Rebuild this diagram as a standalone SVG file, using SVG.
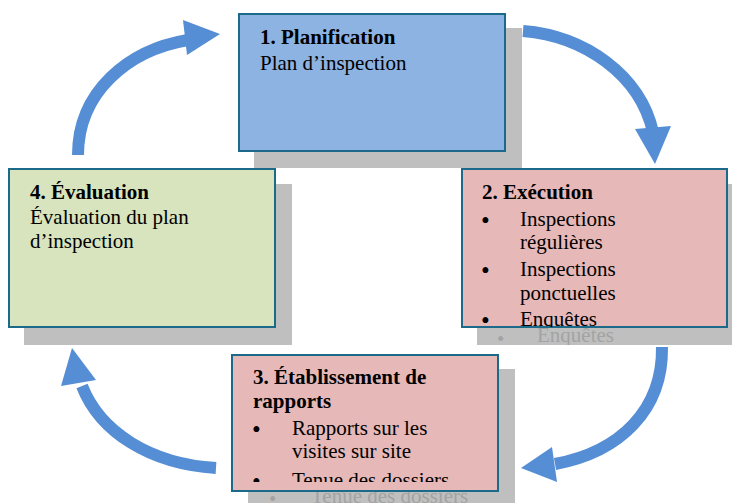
<svg xmlns="http://www.w3.org/2000/svg" width="732" height="503" viewBox="0 0 732 503">
<style>
.shadow{fill:#BFBFBF}
.box{stroke:#1C6A8A;stroke-width:2}
.t{font-size:21px;fill:#000}
.b{font-weight:bold}
.bu{font-size:25px}
.g{font-size:21px;fill:#A3A3A3}
.arrow{fill:none;stroke:#558ED5;stroke-width:12}
.head{fill:#558ED5}
</style>
<defs>
<clipPath id="clipRightShadow"><rect x="477" y="327" width="255" height="18"/></clipPath>
<clipPath id="clipBottomShadow"><rect x="248" y="491" width="267" height="12"/></clipPath>
<clipPath id="clipRightText"><rect x="462" y="169" width="265" height="158"/></clipPath>
<clipPath id="clipBottomText"><rect x="232" y="355" width="266" height="127"/></clipPath>
</defs>
<rect width="732" height="503" fill="#FFFFFF"/>

<g id="connectors">
<path class="arrow" d="M523,31 C585,36 640,75 653,132"/>
<polygon class="head" points="635,129 671,126 655,164"/>
<path class="arrow" d="M662,347 C663,410 620,452 555,464"/>
<polygon class="head" points="552,447 557,482 521,468"/>
<path class="arrow" d="M216,468 C150,464 100,432 82,386"/>
<polygon class="head" points="61,386 96,380 72,348"/>
<path class="arrow" d="M78,155 C78,92 128,50 188,40"/>
<polygon class="head" points="183,20 187,55 220,34"/>
</g>

<g font-family="'Liberation Serif', 'DejaVu Serif', 'Times New Roman', serif">
<g id="node-planification">
<rect class="shadow" x="254" y="28" width="268" height="140"/>
<rect class="box" x="239" y="14" width="266" height="137" fill="#8DB3E2"/>
<text class="t b" x="260" y="44">1. Planification</text>
<text class="t" x="260" y="70">Plan d’inspection</text>
</g>

<g id="node-execution">
<rect class="shadow" x="477" y="184" width="255" height="161"/>
<g clip-path="url(#clipRightShadow)">
<text class="g bu" x="497" y="346">•</text>
<text class="g" x="537" y="342">Enquêtes</text>
</g>
<rect class="box" x="462" y="169" width="265" height="158" fill="#E6B8B7"/>
<g clip-path="url(#clipRightText)">
<text class="t b" x="482" y="199">2. Exécution</text>
<text class="t bu" x="481" y="229">•</text>
<text class="t" x="520" y="226">Inspections</text>
<text class="t" x="520" y="249">régulières</text>
<text class="t bu" x="481" y="279">•</text>
<text class="t" x="520" y="276">Inspections</text>
<text class="t" x="520" y="300">ponctuelles</text>
<text class="t bu" x="481" y="329">•</text>
<text class="t" x="520" y="326">Enquêtes</text>
</g>
</g>

<g id="node-rapports">
<rect class="shadow" x="248" y="369" width="267" height="134"/>
<g clip-path="url(#clipBottomShadow)">
<text class="g bu" x="269" y="506">•</text>
<text class="g" x="311" y="503">Tenue des dossiers</text>
</g>
<rect class="box" x="232" y="355" width="266" height="136" fill="#E6B8B7"/>
<g clip-path="url(#clipBottomText)">
<text class="t b" x="253" y="384">3. Établissement de</text>
<text class="t b" x="253" y="408">rapports</text>
<text class="t bu" x="252" y="438">•</text>
<text class="t" x="292" y="435">Rapports sur les</text>
<text class="t" x="292" y="458">visites sur site</text>
<text class="t bu" x="252" y="490">•</text>
<text class="t" x="292" y="487">Tenue des dossiers</text>
</g>
</g>

<g id="node-evaluation">
<rect class="shadow" x="24" y="184" width="268" height="161"/>
<rect class="box" x="9" y="169" width="266" height="158" fill="#D7E4BD"/>
<text class="t b" x="30" y="199">4. Évaluation</text>
<text class="t" x="30" y="224">Évaluation du plan</text>
<text class="t" x="30" y="248">d’inspection</text>
</g>
</g>
</svg>
